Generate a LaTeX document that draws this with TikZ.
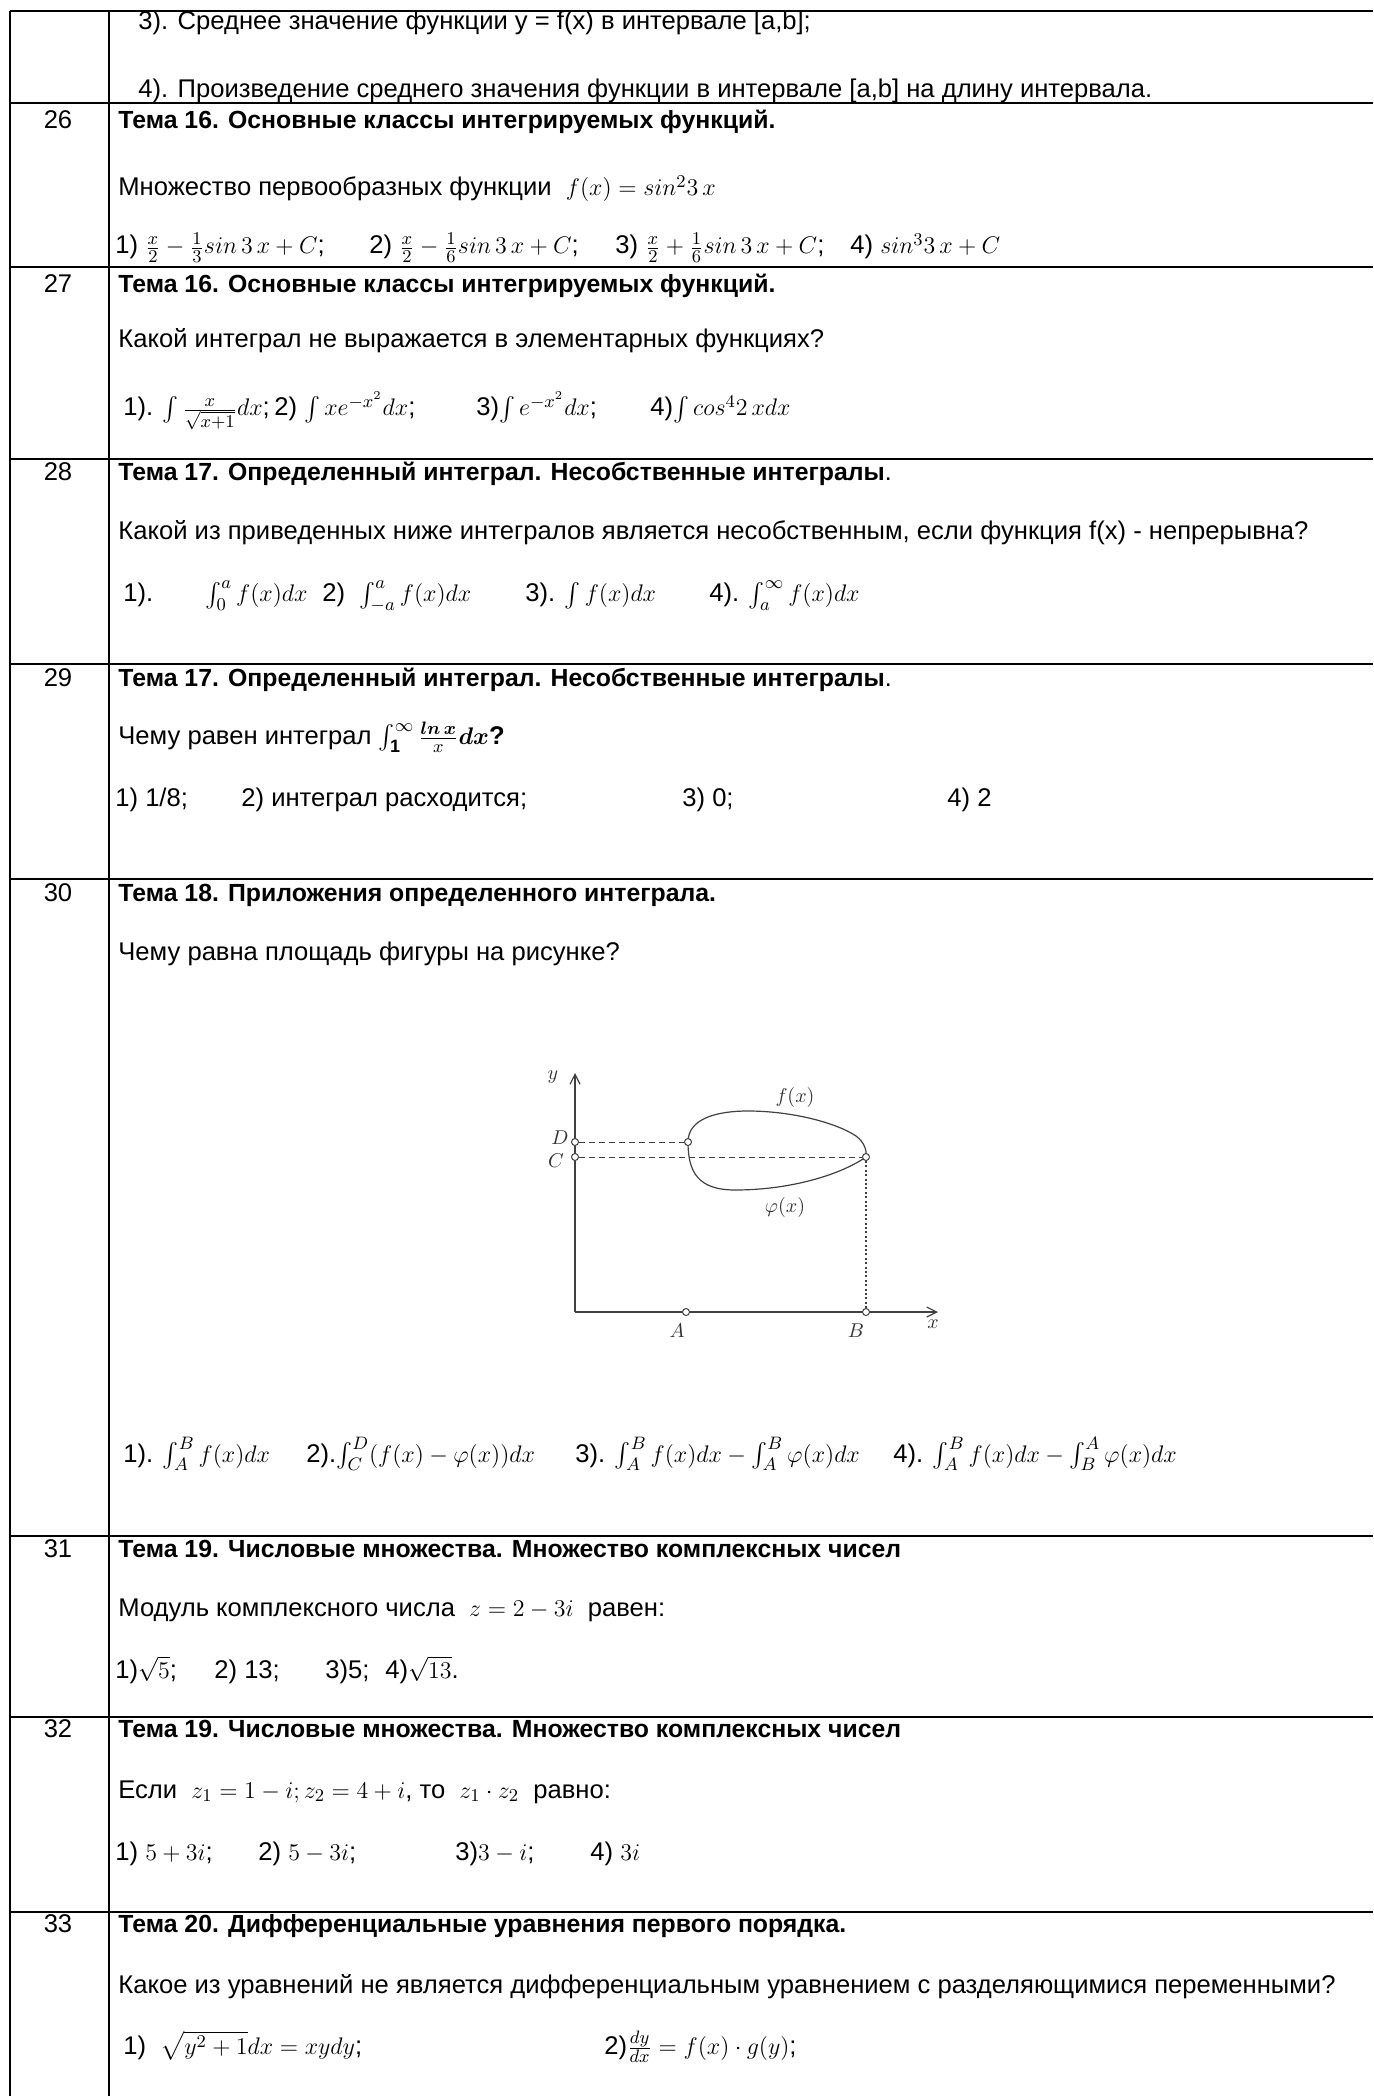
\documentclass[tikz,border=0pt]{standalone}
\usepackage{fontspec}
\setmainfont{Liberation Sans}
\usepackage{amsmath}
\usetikzlibrary{arrows.meta}
\tikzstyle{txt} = [anchor=base west,inner sep=0pt,font=\fontsize{12.8}{15}\selectfont]
\tikzstyle{head} = [txt,font=\fontsize{12.4}{15}\selectfont\bfseries]
\tikzstyle{num} = [anchor=base,inner sep=0pt,font=\fontsize{12.8}{15}\selectfont]
\tikzstyle{rule} = [line width=1pt,black]
\tikzstyle{axis} = [line width=0.6pt,black!75]
\tikzstyle{dsh} = [line width=0.5pt,black!75,dash pattern=on 3pt off 2pt]
\tikzstyle{dots} = [line width=0.6pt,black!75,dash pattern=on 1pt off 1.2pt]
\tikzstyle{pt} = [circle,draw=black!75,fill=white,line width=0.5pt,inner sep=0pt,minimum size=3.5pt]
\tikzstyle{lbl} = [inner sep=0pt,text=black!80,font=\fontsize{10}{11}\selectfont]
\begin{document}
\begin{tikzpicture}[x=0.5pt,y=-0.5pt]
		\useasboundingbox (0,0) rectangle (1373,2096);
		\foreach \yy in {11,103,267,459,664,879,1536,1717,1912}
			\draw[rule] (10,\yy) -- (1373,\yy);
		\foreach \xx in {10,109}
			\draw[rule] (\xx,11) -- (\xx,2096);
		
		\node [txt](r25a) at (138,30){3). Среднее значение функции y = f(x) в интервале [a,b];};
		\node [txt](r25b) at (138,98){4). Произведение среднего значения функции в интервале [a,b] на длину интервала.};
		
		\node [num](n26) at (58,129){26};
		\node [head](h26) at (118,129){Тема 16. Основные классы интегрируемых функций.};
		\node [txt](q26) at (118,196){Множество первообразных функции\ \ $f(x)=sin^2 3\,x$};
		\node [txt](a26a) at (115,254){1) $\frac{x}{2}-\frac{1}{3}sin\,3\,x+C$;};
		\node [txt](a26b) at (369,254){2) $\frac{x}{2}-\frac{1}{6}sin\,3\,x+C$;};
		\node [txt](a26c) at (615,254){3) $\frac{x}{2}+\frac{1}{6}sin\,3\,x+C$;};
		\node [txt](a26d) at (850,254){4)\ $sin^3 3\,x+C$};
		
		\node [num](n27) at (58,293){27};
		\node [head](h27) at (118,293){Тема 16. Основные классы интегрируемых функций.};
		\node [txt](q27) at (118,348){Какой интеграл не выражается в элементарных функциях?};
		\node [txt](a27a) at (123,416){1). $\int\frac{x}{\sqrt{x+1}}dx$;};
		\node [txt](a27b) at (274,416){2)\ $\int xe^{-x^2}dx$;};
		\node [txt](a27c) at (476,416){3)$\int e^{-x^2}dx$;};
		\node [txt](a27d) at (650,416){4)$\int cos^4 2\,xdx$};
		
		\node [num](n28) at (58,481){28};
		\node [head](h28) at (118,481){Тема 17. Определенный интеграл. Несобственные интегралы\mdseries.};
		\node [txt](q28) at (118,540){Какой из приведенных ниже интегралов является несобственным, если функция f(x) - непрерывна?};
		\node [txt](a28a) at (123,602){1).};
		\node [txt](a28b) at (205,602){$\int_0^a f(x)dx$};
		\node [txt](a28c) at (322,602){2)\ \ $\int_{-a}^a f(x)dx$};
		\node [txt](a28d) at (525,602){3). $\int f(x)dx$};
		\node [txt](a28e) at (709,602){4). $\int_a^\infty f(x)dx$};
		
		\node [num](n29) at (58,686){29};
		\node [head](h29) at (118,686){Тема 17. Определенный интеграл. Несобственные интегралы\mdseries.};
		\node [txt](q29) at (118,744){Чему равен интеграл $\int_{\mathbf{1}}^{\infty}\frac{\boldsymbol{ln\,x}}{x}\boldsymbol{dx}$\textbf{?}};
		\node [txt](a29a) at (115,806){1) 1/8;};
		\node [txt](a29b) at (241,806){2) интеграл расходится;};
		\node [txt](a29c) at (682,806){3) 0;};
		\node [txt](a29d) at (947,806){4) 2};
		
		\node [num](n30) at (58,901){30};
		\node [head](h30) at (118,901){Тема 18. Приложения определенного интеграла.};
		\node [txt](q30) at (118,960){Чему равна площадь фигуры на рисунке?};
		
		\coordinate (o) at (575,1312);
		\coordinate (ytip) at (575,1073);
		\coordinate (xtip) at (938,1312);
		\coordinate (p) at (688,1142);
		\coordinate (q) at (866,1157);
		\draw[axis,-{Straight Barb[length=5pt,width=5pt]}](o)--(ytip);
		\draw[axis,-{Straight Barb[length=5pt,width=5pt]}](o)--(xtip);
		\draw[axis](p) .. controls (688,1118) and (718,1111) .. (748,1111)
			.. controls (790,1111) and (835,1122) .. (856,1136)
			.. controls (864,1142) and (867,1150) .. (q)
			.. controls (840,1175) and (790,1190) .. (735,1190)
			.. controls (698,1190) and (688,1172) .. (p);
		\node [pt](mD) at (575,1142){};
		\node [pt](mC) at (575,1157){};
		\node [pt](mP) at (p){};
		\node [pt](mQ) at (q){};
		\node [pt](mA) at (686,1312){};
		\node [pt](mB) at (866,1312){};
		\draw[dsh](mD)--(mP);
		\draw[dsh](mC)--(mQ);
		\draw[dots](mQ)--(mB);
		\node [lbl](ly) at (553,1077){$y$};
		\node [lbl](lx) at (933,1324){$x$};
		\node [lbl](lA) at (677,1331){$A$};
		\node [lbl](lB) at (856,1331){$B$};
		\node [lbl](lD) at (560,1138){$D$};
		\node [lbl](lC) at (556,1161){$C$};
		\node [lbl](lf) at (795,1097){$f(x)$};
		\node [lbl](lphi) at (785,1207){$\varphi(x)$};
		
		\node [txt](a30a) at (123,1462){1). $\int_A^B f(x)dx$};
		\node [txt](a30b) at (306,1462){2).$\int_C^D(f(x)-\varphi(x))dx$};
		\node [txt](a30c) at (575,1462){3). $\int_A^B f(x)dx-\int_A^B\varphi(x)dx$};
		\node [txt](a30d) at (893,1462){4). $\int_A^B f(x)dx-\int_B^A\varphi(x)dx$};
		
		\node [num](n31) at (58,1557){31};
		\node [head](h31) at (118,1557){Тема 19. Числовые множества. Множество комплексных чисел};
		\node [txt](q31) at (118,1616){Модуль комплексного числа\ \ $z=2-3i$\ \ равен:};
		\node [txt](a31a) at (115,1678){1)$\sqrt{5}$;};
		\node [txt](a31b) at (214,1678){2) 13;};
		\node [txt](a31c) at (325,1678){3)5;};
		\node [txt](a31d) at (385,1678){4)$\sqrt{13}$.};
		
		\node [num](n32) at (58,1737){32};
		\node [head](h32) at (118,1737){Тема 19. Числовые множества. Множество комплексных чисел};
		\node [txt](q32) at (118,1798){Если\ \ $z_1=1-i;z_2=4+i$, то\ \ $z_1\cdot z_2$\ \ равно:};
		\node [txt](a32a) at (115,1860){1)\ $5+3i$;};
		\node [txt](a32b) at (258,1860){2)\ $5-3i$;};
		\node [txt](a32c) at (455,1860){3)$3-i$;};
		\node [txt](a32d) at (590,1860){4)\ $3i$};
		
		\node [num](n33) at (58,1932){33};
		\node [head](h33) at (118,1932){Тема 20. Дифференциальные уравнения первого порядка.};
		\node [txt](q33) at (118,1993){Какое из уравнений не является дифференциальным уравнением с разделяющимися переменными?};
		\node [txt](a33a) at (123,2054){1)\ \ $\sqrt{y^2+1}dx=xydy$;};
		\node [txt](a33b) at (604,2054){2)$\frac{dy}{dx}=f(x)\cdot g(y)$;};
\end{tikzpicture}
\end{document}
